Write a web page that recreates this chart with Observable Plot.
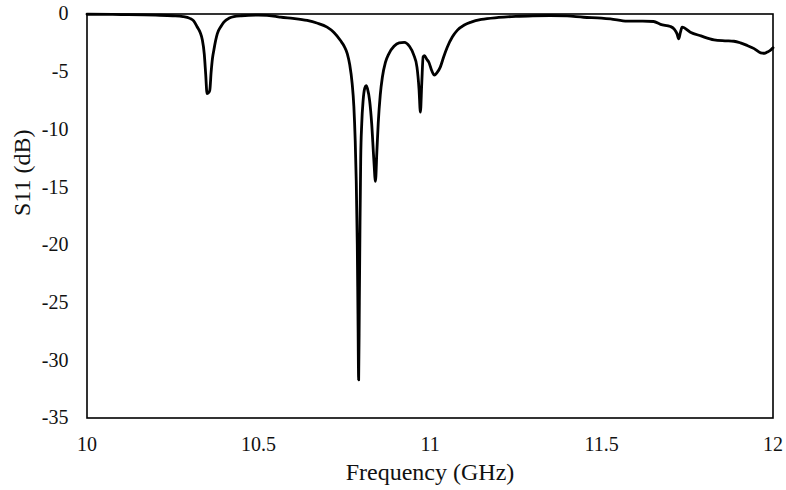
<!DOCTYPE html>
<html>
<head>
<meta charset="utf-8">
<script src="https://cdn.jsdelivr.net/npm/d3@7"></script>
<script src="https://cdn.jsdelivr.net/npm/@observablehq/plot@0.6"></script>
<style>
  html, body { margin: 0; padding: 0; background: #fff; }
  #chart { width: 786px; height: 490px; }
  #chart svg, #chart svg text { font-family: "Liberation Serif", "Times New Roman", serif !important; }
</style>
</head>
<body>
<div id="chart"></div>
<script>
const freq = [
  10.000, 10.100, 10.200, 10.250, 10.280, 10.300, 10.311, 10.321, 10.330, 10.336, 10.342, 10.346, 10.350, 10.355, 10.358, 10.362, 10.366, 10.370, 10.375, 10.380, 10.390, 10.399, 10.415, 10.428, 10.450, 10.500,
  10.550, 10.564, 10.600, 10.642, 10.670, 10.700, 10.720, 10.739, 10.750, 10.759, 10.766, 10.773, 10.778, 10.782, 10.785, 10.788, 10.790, 10.792,
  10.794, 10.796, 10.798, 10.801, 10.805, 10.810, 10.814, 10.818, 10.824, 10.830, 10.836, 10.841, 10.845, 10.849, 10.855, 10.861, 10.870, 10.880,
  10.895, 10.910, 10.925, 10.940, 10.952, 10.962, 10.968, 10.972, 10.976, 10.980, 10.984, 10.990, 10.997, 11.005, 11.013, 11.020, 11.030, 11.040,
  11.050, 11.065, 11.080, 11.100, 11.120, 11.150, 11.200, 11.250, 11.300, 11.350, 11.400, 11.448, 11.500, 11.526, 11.575, 11.620, 11.652, 11.672,
  11.701, 11.712, 11.720, 11.725, 11.730, 11.735, 11.759, 11.790, 11.828, 11.860, 11.886, 11.905, 11.925, 11.945, 11.964, 11.975, 11.983, 11.992, 12.000
];
const s11 = [
  -0.02, -0.05, -0.10, -0.15, -0.22, -0.38, -0.60, -1.10, -1.60, -2.2, -3.5, -5.2, -6.9, -6.8, -6.6, -5.0, -3.8, -3.1, -2.3, -1.7, -1.1, -0.70, -0.35, -0.22, -0.15, -0.10,
  -0.20, -0.28, -0.38, -0.56, -0.78, -1.14, -1.60, -2.3, -2.8, -3.45, -4.4, -6.0, -8.0, -11.0, -14.5, -20.0, -26.0, -31.7,
  -25.0, -18.0, -12.5, -9.5, -7.5, -6.4, -6.2, -6.5, -7.5, -9.5, -12.5, -14.5, -12.0, -9.5, -7.0, -5.5, -4.2, -3.45,
  -2.8, -2.5, -2.45, -2.8, -3.5, -4.6, -6.5, -8.5, -6.0, -3.7, -3.6, -3.9, -4.2, -4.9, -5.3, -5.1, -4.6, -3.7,
  -2.9, -2.0, -1.4, -0.95, -0.70, -0.47, -0.30, -0.20, -0.15, -0.13, -0.17, -0.28, -0.35, -0.42, -0.62, -0.62, -0.65, -0.90,
  -1.08, -1.30, -1.70, -2.15, -1.60, -1.14, -1.58, -1.90, -2.24, -2.32, -2.36, -2.50, -2.73, -3.00, -3.36, -3.40, -3.30, -3.15, -2.93
];
const xTicks = [10, 10.5, 11, 11.5, 12];
const yTicks = [0, -5, -10, -15, -20, -25, -30, -35];
const xTitle = "Frequency (GHz)";
const yTitle = "S11 (dB)";

const data = freq.map((f, i) => ({f, v: s11[i]}));
const font = "Liberation Serif, Times New Roman, serif";

const chart = Plot.plot({
  width: 786,
  height: 490,
  marginLeft: 86.5,
  marginRight: 13.5,
  marginTop: 13.5,
  marginBottom: 72.5,
  style: {fontFamily: font, fontSize: "20px", color: "#111", background: "#fff"},
  x: {domain: [10, 12], ticks: xTicks, label: null},
  y: {domain: [-35, 0], ticks: yTicks, label: null},
  marks: [
    Plot.axisX({ticks: xTicks, tickSize: 0, tickPadding: 19, label: null, tickFormat: d => String(d), fontSize: 20, fontFamily: font}),
    Plot.axisY({ticks: yTicks, tickSize: 0, tickPadding: 18.5, label: null, tickFormat: d => String(d), fontSize: 20, fontFamily: font}),
    Plot.line(data, {x: "f", y: "v", stroke: "#000", strokeWidth: 2.8, curve: "monotone-x"}),
    Plot.frame({stroke: "#000", strokeWidth: 1.6}),
    Plot.text([xTitle], {frameAnchor: "bottom", dy: 62, text: d => d, fontSize: 24, fontFamily: font, fill: "#111"}),
    Plot.text([yTitle], {frameAnchor: "left", dx: -64.5, rotate: -90, text: d => d, fontSize: 24, fontFamily: font, fill: "#111"})
  ]
});
document.getElementById("chart").appendChild(chart);
</script>
</body>
</html>
